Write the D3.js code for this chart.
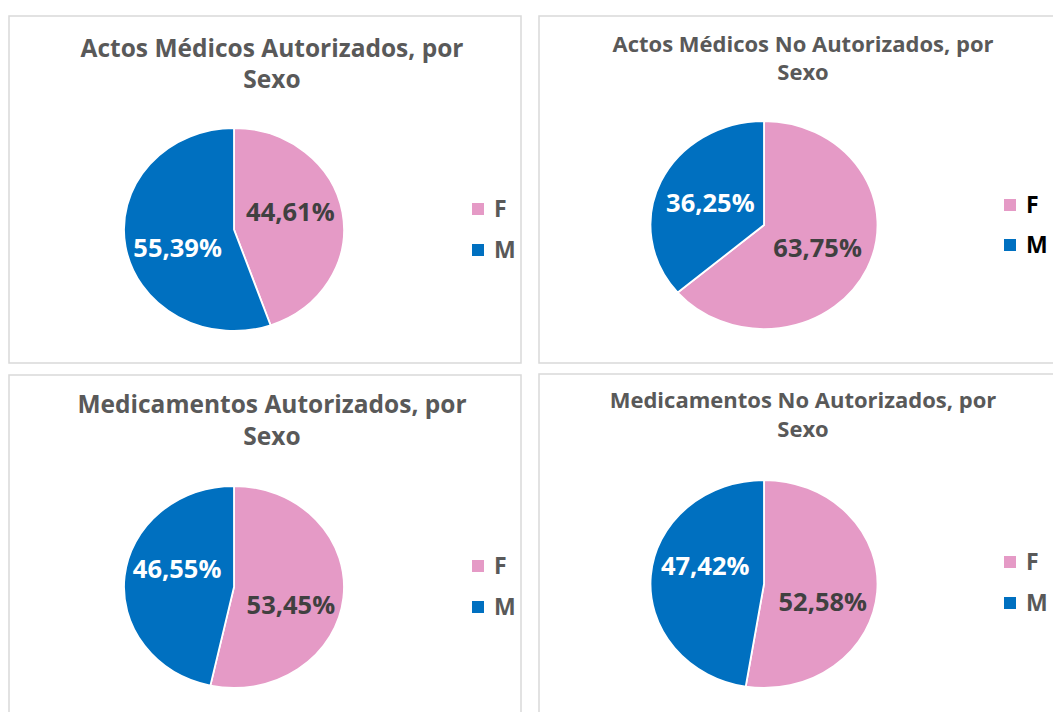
<!DOCTYPE html>
<html>
<head>
<meta charset="utf-8">
<script src="https://cdn.jsdelivr.net/npm/d3@7"></script>
<style>
  html, body { margin: 0; padding: 0; background: #fff; }
  svg { display: block; }
  text { font-family: "Open Sans", "Noto Sans", sans-serif; font-weight: 700; }
</style>
</head>
<body>
<svg id="chart" width="1053" height="712"></svg>
<script>
// chart values
const titleLines = [
  ['Actos Médicos Autorizados, por', 'Sexo'],
  ['Actos Médicos No Autorizados, por', 'Sexo'],
  ['Medicamentos Autorizados, por', 'Sexo'],
  ['Medicamentos No Autorizados, por', 'Sexo'],
];
const categories = ['F', 'M'];
const femaleShare = [44.61, 63.75, 53.45, 52.58];
const maleShare = [55.39, 36.25, 46.55, 47.42];

const sliceColor = {F: '#e59ac6', M: '#0070c0'};
const labelColor = {F: '#404040', M: '#ffffff'};

// panel layout (frame, pie ellipse, title, legend)
const panels = [
  {frame: [9, 16, 512, 347], cx: 234, cy: 229.5, rx: 110, ry: 101.5,
    tx: 272, ty: [57, 88], tsize: 24.5, lx: 472, ly: [209, 250], lcol: '#595959'},
  {frame: [539, 16, 530, 347], cx: 764, cy: 225, rx: 113.5, ry: 104,
    tx: 803, ty: [52, 80], tsize: 22, lx: 1004, ly: [205, 245], lcol: '#000000'},
  {frame: [9, 375, 512, 350], cx: 234, cy: 587, rx: 110, ry: 101,
    tx: 272, ty: [413, 445], tsize: 24.5, lx: 472, ly: [566, 607], lcol: '#595959'},
  {frame: [539, 374, 530, 350], cx: 764, cy: 584, rx: 113.5, ry: 104,
    tx: 803, ty: [408, 437], tsize: 22, lx: 1004, ly: [562, 603], lcol: '#595959'},
];

const svg = d3.select('#chart');
svg.append('rect').attr('width', 1053).attr('height', 712).attr('fill', '#fff');

const pie = d3.pie().sort(null).value((d) => d.value);
const fmt = (v) => d3.format('.2f')(v).replace('.', ',') + '%';

panels.forEach((p, i) => {
  const data = [
    {key: categories[0], value: femaleShare[i]},
    {key: categories[1], value: maleShare[i]},
  ];
  const g = svg.append('g');

  g.append('rect')
      .attr('x', p.frame[0]).attr('y', p.frame[1])
      .attr('width', p.frame[2]).attr('height', p.frame[3])
      .attr('fill', '#fff')
      .attr('stroke', '#d9d9d9')
      .attr('stroke-width', 1.5);

  g.append('text')
      .attr('x', p.tx)
      .attr('text-anchor', 'middle')
      .attr('fill', '#595959')
      .style('font-size', `${p.tsize}px`)
      .selectAll('tspan')
      .data(titleLines[i])
      .join('tspan')
      .attr('x', p.tx)
      .attr('y', (d, j) => p.ty[j])
      .text((d) => d);

  // pie is drawn as circle, then stretched to the ellipse of the picture
  const sx = p.rx / p.ry;
  const arc = d3.arc().innerRadius(0).outerRadius(p.ry);
  const labelArc = d3.arc().innerRadius(p.ry * 0.52).outerRadius(p.ry * 0.52);
  const arcs = pie(data);

  g.append('g')
      .attr('transform', `translate(${p.cx},${p.cy}) scale(${sx},1)`)
      .selectAll('path')
      .data(arcs)
      .join('path')
      .attr('d', arc)
      .attr('fill', (d) => sliceColor[d.data.key])
      .attr('stroke', '#fff')
      .attr('stroke-width', 1.8)
      .attr('vector-effect', 'non-scaling-stroke');

  // labels kept off the horizontal diameter, like the spreadsheet's best fit
  const labelPos = (d) => {
    const [x, y] = labelArc.centroid(d);
    const mid = (d.startAngle + d.endAngle) / 2;
    const side = -Math.cos(mid) >= 0 ? 1 : -1;
    return [p.cx + x * sx, p.cy + side * Math.max(Math.abs(y), 18)];
  };

  g.append('g')
      .selectAll('text')
      .data(arcs)
      .join('text')
      .attr('x', (d) => labelPos(d)[0])
      .attr('y', (d) => labelPos(d)[1])
      .attr('dy', '0.36em')
      .attr('text-anchor', 'middle')
      .attr('fill', (d) => labelColor[d.data.key])
      .style('font-size', '25.5px')
      .text((d) => fmt(d.data.value));

  const legend = g.append('g')
      .selectAll('g')
      .data(categories)
      .join('g')
      .attr('transform', (d, j) => `translate(${p.lx},${p.ly[j]})`);
  legend.append('rect')
      .attr('x', 0).attr('y', -6)
      .attr('width', 12).attr('height', 12)
      .attr('fill', (d) => sliceColor[d]);
  legend.append('text')
      .attr('x', 22)
      .attr('dy', '0.36em')
      .attr('fill', p.lcol)
      .style('font-size', '23px')
      .text((d) => d);
});
</script>
</body>
</html>
